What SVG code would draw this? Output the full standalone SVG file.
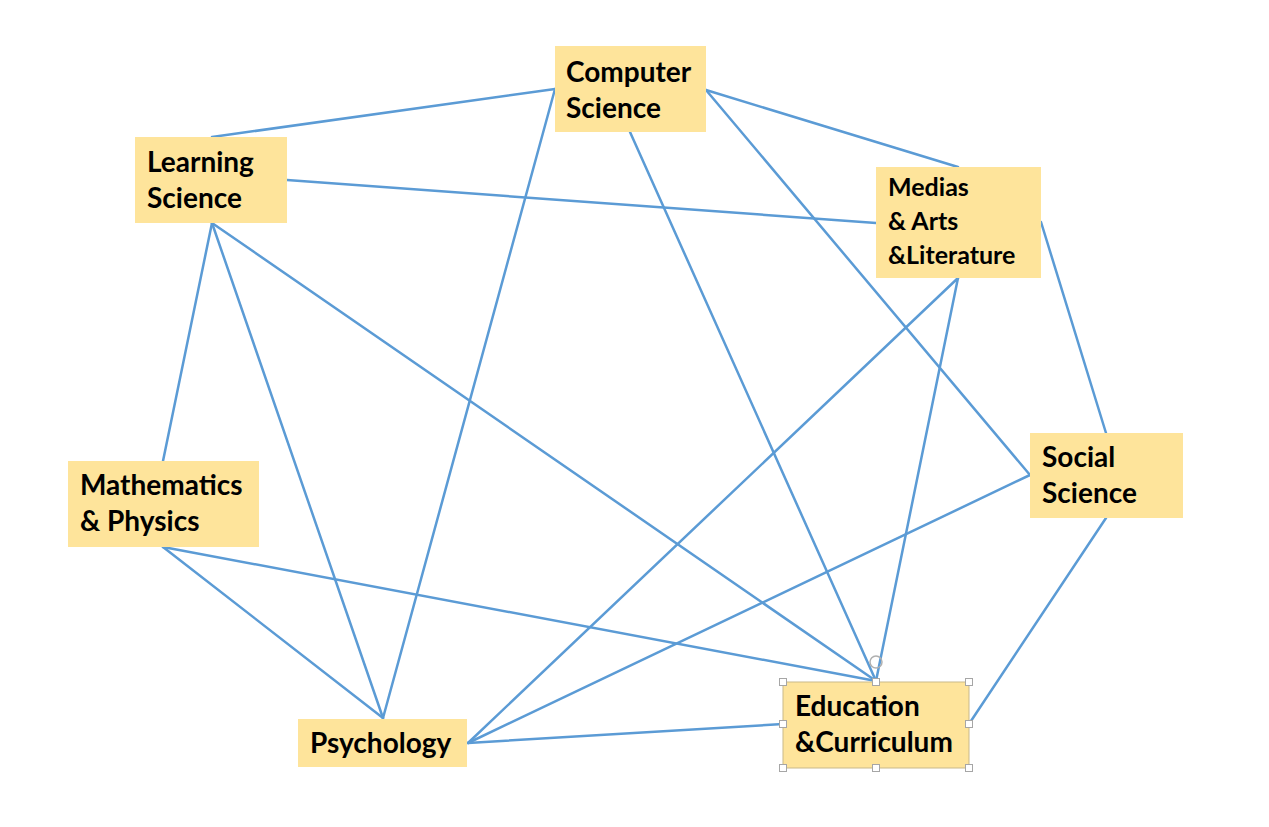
<svg xmlns="http://www.w3.org/2000/svg" width="1269" height="827" viewBox="0 0 1269 827">
<style>
.box{fill:#FEE49B;}
.lbl{font-family:"Lato","Liberation Sans",sans-serif;font-weight:bold;font-size:28px;fill:#000;}
.sm{font-size:25px;}
.edge{stroke:#5B9BD5;stroke-width:2.5;fill:none;stroke-linecap:round;}
.h{fill:#fff;stroke:#a6a6a6;stroke-width:1;}
</style>
<rect width="1269" height="827" fill="#fff"/>
<g id="connectors">
<line class="edge" x1="212" y1="137" x2="555" y2="89"/>
<line class="edge" x1="555" y1="89" x2="383" y2="718"/>
<line class="edge" x1="630" y1="132" x2="876" y2="681"/>
<line class="edge" x1="706" y1="90" x2="958" y2="167"/>
<line class="edge" x1="706" y1="90" x2="1030" y2="475"/>
<line class="edge" x1="287" y1="180" x2="876" y2="223"/>
<line class="edge" x1="212" y1="223" x2="163" y2="461"/>
<line class="edge" x1="212" y1="223" x2="383" y2="718"/>
<line class="edge" x1="212" y1="223" x2="876" y2="681"/>
<line class="edge" x1="958" y1="278" x2="468" y2="743"/>
<line class="edge" x1="958" y1="278" x2="876" y2="681"/>
<line class="edge" x1="1041" y1="222" x2="1106" y2="433"/>
<line class="edge" x1="1030" y1="475" x2="468" y2="743"/>
<line class="edge" x1="1106" y1="518" x2="969" y2="724"/>
<line class="edge" x1="163" y1="547" x2="383" y2="718"/>
<line class="edge" x1="163" y1="547" x2="876" y2="681"/>
<line class="edge" x1="468" y1="743" x2="783" y2="724"/>
</g>
<g id="computer-science">
<rect class="box" x="555" y="46" width="151" height="86"/>
<text class="lbl" x="566" y="82">Computer</text>
<text class="lbl" x="566" y="118">Science</text>
</g>
<g id="learning-science">
<rect class="box" x="135" y="137" width="152" height="86"/>
<text class="lbl" x="147" y="172">Learning</text>
<text class="lbl" x="147" y="208">Science</text>
</g>
<g id="medias-arts-literature">
<rect class="box" x="876" y="167" width="165" height="111"/>
<text class="lbl sm" x="888" y="196">Medias</text>
<text class="lbl sm" x="888" y="230">&amp; Arts</text>
<text class="lbl sm" x="888" y="264">&amp;Literature</text>
</g>
<g id="social-science">
<rect class="box" x="1030" y="433" width="153" height="85"/>
<text class="lbl" x="1042" y="467">Social</text>
<text class="lbl" x="1042" y="503">Science</text>
</g>
<g id="mathematics-physics">
<rect class="box" x="68" y="461" width="191" height="86"/>
<text class="lbl" x="80" y="495">Mathematics</text>
<text class="lbl" x="80" y="531">&amp; Physics</text>
</g>
<g id="psychology">
<rect class="box" x="298" y="719" width="169" height="48"/>
<text class="lbl" x="310" y="753">Psychology</text>
</g>
<g id="education-curriculum">
<rect class="box" x="783" y="682" width="186" height="86" stroke="#c9b98a" stroke-width="1"/>
<text class="lbl" x="795" y="716">Education</text>
<text class="lbl" x="795" y="752">&amp;Curriculum</text>
<g id="selection-handles">
<circle cx="876" cy="662" r="6" fill="none" stroke="#b0b0b0" stroke-width="1.5"/>
<rect class="h" x="779.5" y="678.5" width="7" height="7"/>
<rect class="h" x="872.5" y="678.5" width="7" height="7"/>
<rect class="h" x="965.5" y="678.5" width="7" height="7"/>
<rect class="h" x="779.5" y="720.5" width="7" height="7"/>
<rect class="h" x="965.5" y="720.5" width="7" height="7"/>
<rect class="h" x="779.5" y="764.5" width="7" height="7"/>
<rect class="h" x="872.5" y="764.5" width="7" height="7"/>
<rect class="h" x="965.5" y="764.5" width="7" height="7"/>
</g>
</g>
</svg>
